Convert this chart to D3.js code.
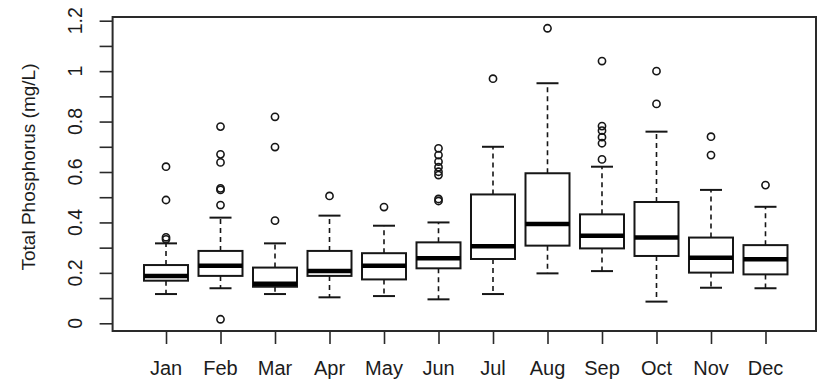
<!DOCTYPE html>
<html>
<head>
<meta charset="utf-8">
<script src="https://cdn.jsdelivr.net/npm/d3@7"></script>
<style>
  html, body { margin: 0; padding: 0; background: #fff; }
  svg { display: block; }
  text { font-family: "Liberation Sans", Arial, sans-serif; fill: #1c1c1c; }
</style>
</head>
<body>
<svg id="chart" width="818" height="384"></svg>
<script>
// Monthly total phosphorus summaries (mg/L)
const months = ["Jan", "Feb", "Mar", "Apr", "May", "Jun", "Jul", "Aug", "Sep", "Oct", "Nov", "Dec"];
const lowerWhisker = [0.116, 0.139, 0.116, 0.103, 0.108, 0.095, 0.116, 0.198, 0.207, 0.086, 0.141, 0.139];
const q1           = [0.169, 0.188, 0.145, 0.188, 0.174, 0.218, 0.255, 0.308, 0.297, 0.267, 0.201, 0.194];
const median       = [0.188, 0.228, 0.157, 0.207, 0.228, 0.258, 0.306, 0.394, 0.347, 0.340, 0.260, 0.254];
const q3           = [0.231, 0.287, 0.221, 0.287, 0.278, 0.321, 0.511, 0.595, 0.432, 0.481, 0.340, 0.310];
const upperWhisker = [0.317, 0.419, 0.317, 0.427, 0.387, 0.400, 0.700, 0.952, 0.621, 0.760, 0.529, 0.462];
const outliers = [
  [0.621, 0.489, 0.341, 0.333],
  [0.780, 0.670, 0.638, 0.535, 0.529, 0.469, 0.016],
  [0.819, 0.699, 0.407],
  [0.505],
  [0.461],
  [0.694, 0.667, 0.641, 0.619, 0.601, 0.588, 0.493, 0.485],
  [0.970],
  [1.170],
  [1.040, 0.782, 0.764, 0.738, 0.714, 0.650],
  [1.000, 0.870],
  [0.740, 0.667],
  [0.548]
];
const yTicks = [0, 0.1, 0.2, 0.3, 0.4, 0.5, 0.6, 0.7, 0.8, 0.9, 1.0, 1.1, 1.2];
const yLabels = [0, 0.2, 0.4, 0.6, 0.8, 1.0, 1.2];
const yTitle = "Total Phosphorus (mg/L)";

const svg = d3.select("#chart");
const ink = "#161616";

// Plot frame
const frame = { left: 112.6, right: 816, top: 17, bottom: 331 };

// Box positions 1..12 on an extended range [0.02, 12.98]
const x = d3.scaleLinear().domain([0.02, 12.98]).range([112.6, 818.9]);
const y = d3.scaleLinear().domain([0, 1.2]).range([323.3, 20.7]);

const boxW = 44;
const capW = 22;

const stats = months.map((m, i) => ({
  m, i, pos: i + 1,
  lo: lowerWhisker[i], q1: q1[i], med: median[i], q3: q3[i], hi: upperWhisker[i],
  out: outliers[i]
}));

const g = svg.append("g");

const box = g.selectAll("g.box").data(stats).join("g").attr("class", "box");

// dashed whiskers
box.append("line")
  .attr("x1", d => x(d.pos)).attr("x2", d => x(d.pos))
  .attr("y1", d => y(d.q3)).attr("y2", d => y(d.hi))
  .attr("stroke", ink).attr("stroke-width", 1.6).attr("stroke-dasharray", "5,4");
box.append("line")
  .attr("x1", d => x(d.pos)).attr("x2", d => x(d.pos))
  .attr("y1", d => y(d.q1)).attr("y2", d => y(d.lo))
  .attr("stroke", ink).attr("stroke-width", 1.6).attr("stroke-dasharray", "5,4");

// whisker caps
box.append("line")
  .attr("x1", d => x(d.pos) - capW / 2).attr("x2", d => x(d.pos) + capW / 2)
  .attr("y1", d => y(d.hi)).attr("y2", d => y(d.hi))
  .attr("stroke", ink).attr("stroke-width", 2);
box.append("line")
  .attr("x1", d => x(d.pos) - capW / 2).attr("x2", d => x(d.pos) + capW / 2)
  .attr("y1", d => y(d.lo)).attr("y2", d => y(d.lo))
  .attr("stroke", ink).attr("stroke-width", 2);

// interquartile box
box.append("rect")
  .attr("x", d => x(d.pos) - boxW / 2)
  .attr("width", boxW)
  .attr("y", d => y(d.q3))
  .attr("height", d => y(d.q1) - y(d.q3))
  .attr("fill", "#fff").attr("stroke", ink).attr("stroke-width", 2);

// median
box.append("line")
  .attr("x1", d => x(d.pos) - boxW / 2).attr("x2", d => x(d.pos) + boxW / 2)
  .attr("y1", d => y(d.med)).attr("y2", d => y(d.med))
  .attr("stroke", "#000").attr("stroke-width", 4.5);

// outliers
box.selectAll("circle")
  .data(d => d.out.map(v => ({ pos: d.pos, v })))
  .join("circle")
  .attr("cx", d => x(d.pos)).attr("cy", d => y(d.v))
  .attr("r", 3.6)
  .attr("fill", "none").attr("stroke", ink).attr("stroke-width", 1.6);

// frame
svg.append("rect")
  .attr("x", frame.left).attr("y", frame.top)
  .attr("width", frame.right - frame.left).attr("height", frame.bottom - frame.top)
  .attr("fill", "none").attr("stroke", "#2a2a2a").attr("stroke-width", 2);

// y axis: ticks every 0.1, labels every 0.2
const yAxis = d3.axisLeft(y).tickValues(yTicks).tickSize(13).tickFormat("");
const ya = svg.append("g").attr("transform", `translate(${frame.left},0)`).call(yAxis);
ya.select(".domain").remove();
ya.selectAll(".tick line").attr("stroke", "#2a2a2a").attr("stroke-width", 1.6);

svg.append("g").selectAll("text").data(yLabels).join("text")
  .attr("transform", d => `translate(82,${y(d)}) rotate(-90)`)
  .attr("text-anchor", "middle")
  .style("font-size", "19.5px")
  .text(d => d3.format("~g")(d));

// x axis
const xAxis = d3.axisBottom(x).tickValues(d3.range(1, 13)).tickSize(13).tickFormat("");
const xa = svg.append("g").attr("transform", `translate(0,${frame.bottom})`).call(xAxis);
xa.select(".domain").remove();
xa.selectAll(".tick line").attr("stroke", "#2a2a2a").attr("stroke-width", 1.6);

svg.append("g").selectAll("text").data(months).join("text")
  .attr("x", (d, i) => x(i + 1))
  .attr("y", 375)
  .attr("text-anchor", "middle")
  .style("font-size", "20px")
  .text(d => d);

// y title
svg.append("text")
  .attr("transform", "translate(35,167) rotate(-90)")
  .attr("text-anchor", "middle")
  .style("font-size", "19px")
  .text(yTitle);
</script>
</body>
</html>
